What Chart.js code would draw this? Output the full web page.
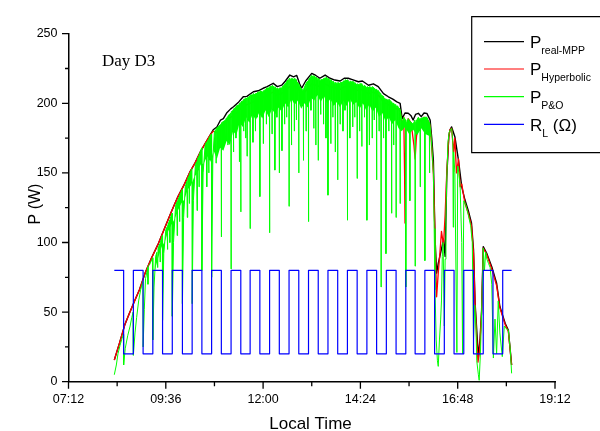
<!DOCTYPE html>
<html>
<head>
<meta charset="utf-8">
<script src="https://cdn.jsdelivr.net/npm/chart.js@4.4.0/dist/chart.umd.min.js"></script>
<style>
  html, body { margin: 0; padding: 0; background: #fff; }
</style>
</head>
<body>
<canvas id="chart" width="600" height="431"></canvas>
<script>
// time axis in decimal hours, power in W, load in ohm
const timeTicks = [7.2, 9.6, 12.0, 14.4, 16.8, 19.2];
const powerTicks = [0, 50, 100, 150, 200, 250];

// [hour, W]
const pRealMpp = [
  [8.33,15.6],[8.45,27],[8.59,41],[8.70,49],[8.84,58.7],[8.95,66],[9.09,78],[9.25,89],[9.42,99.4],
  [9.58,111],[9.75,123],[9.90,133],[10.07,142.5],[10.2,151],[10.32,157],[10.45,165],[10.57,171],
  [10.69,177],[10.77,181],[10.86,183],[10.95,188],[11.02,189],[11.1,193],[11.2,196],[11.27,197.5],
  [11.4,201],[11.51,204.7],[11.6,205],[11.76,208.3],[11.88,209],[12.0,210.8],[12.1,212],[12.25,214.4],
  [12.35,212],[12.46,213],[12.55,216],[12.66,220.3],[12.75,219],[12.83,220],[12.9,214],[12.95,210.8],
  [13.05,216],[13.2,221.5],[13.3,220],[13.4,218],[13.53,220.3],[13.65,218],[13.77,216.7],[13.9,216],
  [14.0,218],[14.1,218],[14.2,217],[14.35,215.5],[14.45,216],[14.6,213],[14.72,214],[14.84,212],
  [14.97,207],[15.09,204.7],[15.2,203],[15.3,201],[15.38,200],[15.43,189],[15.5,193],[15.58,192.8],
  [15.65,191],[15.7,188],[15.76,192],[15.83,192.8],[15.9,190.4],[15.97,193],[16.04,192.8],[16.12,188],
  [16.16,175],[16.2,159],[16.24,104],[16.28,78],[16.32,85],[16.36,90],[16.45,102],[16.49,90],
  [16.53,147],[16.58,176],[16.61,181],[16.65,183],[16.73,176],[16.82,159],[16.9,140],[16.98,130.5],
  [17.06,123],[17.14,114],[17.19,95],[17.23,56],[17.31,18],[17.35,30],[17.39,51.5],[17.43,97],
  [17.52,92],[17.64,82.6],[17.76,70.7],[17.84,54],[17.97,42],[18.05,37],[18.13,12]
];

const pHyperbolic = [
  [8.33,15.6],[8.45,27],[8.59,41],[8.70,49],[8.84,58.7],[8.95,66],[9.09,78],[9.25,89],[9.42,99.4],
  [9.58,111],[9.75,123],[9.90,133],[10.07,142.5],[10.2,151],[10.32,157],[10.45,165],[10.57,171],
  [10.69,177],[10.77,180],[10.86,179],[10.95,183],[11.02,184],[11.1,187],[11.2,190],[11.27,191],
  [11.4,195],[11.51,198],[11.6,199],[11.76,201],[11.88,203],[12.0,204],[12.1,206],[12.25,208],
  [12.35,206],[12.46,207],[12.55,209],[12.66,212],[12.75,212],[12.83,213],[12.95,205],[13.05,209],
  [13.2,214],[13.4,212],[13.53,214],[13.65,212],[13.77,211],[13.9,210],[14.0,212],[14.1,212],
  [14.2,211],[14.35,209],[14.45,210],[14.6,207],[14.72,208],[14.84,206],[14.97,201],[15.09,199],
  [15.2,197],[15.3,196],[15.38,195],[15.43,184],[15.47,190],[15.49,150],[15.5,114],[15.52,180],
  [15.58,189],[15.65,186],[15.72,170],[15.75,160],[15.78,175],[15.83,189],[15.9,187],[15.97,190],
  [16.04,189],[16.12,184],[16.16,168],[16.2,150],[16.24,105],[16.28,61],[16.32,78],[16.36,92],
  [16.4,108],[16.45,98],[16.49,120],[16.53,150],[16.58,176],[16.61,181],[16.65,182],[16.7,165],
  [16.73,175],[16.77,150],[16.82,160],[16.86,140],[16.9,142],[16.98,128],[17.06,121],[17.14,112],
  [17.19,92],[17.23,55],[17.27,30],[17.3,14],[17.34,22],[17.39,50],[17.43,96],[17.52,91],
  [17.64,81],[17.76,69],[17.84,53],[17.97,41],[18.05,36],[18.13,12]
];

const pPO = [
  // morning rise: drop at each load step, then slow recovery
  [8.33,5],[8.38,12],[8.42,20],[8.47,26],[8.52,31],[8.555,34],[8.56,12],[8.6,24],[8.66,33],[8.72,40],
  [8.76,46],[8.795,50],[8.80,19],[8.84,35],[8.88,46],[8.93,58],[8.98,66],[9.035,72],[9.04,25],[9.07,52],
  [9.1,74],[9.155,82],[9.16,70],[9.165,83],[9.2,84],[9.275,89],[9.28,30],[9.31,68],[9.35,90],[9.38,93],
  [9.40,82],[9.41,96],[9.455,99],[9.46,86],[9.465,100],[9.515,105],[9.52,44],[9.55,92],[9.6,109],
  [9.63,111],[9.64,95],[9.65,112],[9.695,116],[9.70,100],[9.705,117],[9.755,121],[9.76,47],[9.79,100],
  [9.84,126],[9.87,129],[9.88,105],[9.89,130],[9.935,133],[9.94,115],[9.945,134],[10.005,138],
  [10.01,56],[10.04,118],[10.08,140],[10.12,144],[10.13,118],[10.14,146],[10.175,148],[10.18,128],
  [10.185,149],[10.245,153],[10.25,56],[10.28,130],[10.33,156],[10.36,158],[10.37,123],[10.38,160],
  [10.415,162],[10.42,140],[10.425,163],[10.485,168],[10.49,80],[10.52,150],[10.57,170],[10.60,172],
  [10.61,140],[10.62,173],[10.655,174],[10.66,150],[10.665,175],[10.725,178],[10.73,75],[10.76,160],
  [10.8,180],
  // midday plateau
  [10.836,181],[10.84,157],[10.844,182],[10.966,185],[10.97,104],[10.974,186],[11.076,188],[11.08,176],
  [11.084,189],[11.126,190],[11.13,170],[11.134,191],[11.206,193],[11.21,81],[11.214,194],[11.266,195],
  [11.27,165],[11.274,196],[11.326,197],[11.33,175],[11.334,198],[11.411,199],[11.415,158],[11.419,200],
  [11.446,200],[11.45,122],[11.454,201],[11.516,202],[11.52,180],[11.524,203],[11.566,203],[11.57,175],
  [11.574,204],[11.601,203],[11.605,162],[11.609,204],[11.676,205],[11.68,110],[11.684,206],
  [11.746,206],[11.75,172],[11.754,207],[11.806,206],[11.81,180],[11.814,207],[11.856,207],[11.86,190],
  [11.864,208],[11.916,208],[11.92,133],[11.924,209],[12.001,208],[12.005,171],[12.009,209],
  [12.076,210],[12.08,185],[12.084,211],[12.156,211],[12.16,107],[12.164,212],[12.216,212],[12.22,178],
  [12.224,213],[12.286,211],[12.29,152],[12.294,212],[12.336,210],[12.34,190],[12.344,211],
  [12.396,210],[12.40,150],[12.404,211],[12.461,211],[12.465,166],[12.469,212],[12.526,213],
  [12.53,185],[12.534,214],[12.576,215],[12.58,190],[12.584,216],[12.636,217],[12.64,126],[12.644,218],
  [12.696,217],[12.70,170],[12.704,218],[12.766,217],[12.77,180],[12.774,218],[12.816,217],[12.82,188],
  [12.824,216],[12.876,214],[12.88,150],[12.884,213],[12.991,209],[12.995,159],[12.999,210],
  [13.056,214],[13.06,180],[13.064,215],[13.116,216],[13.12,115],[13.124,217],[13.176,219],[13.18,195],
  [13.184,220],[13.246,219],[13.25,182],[13.254,220],[13.296,218],[13.30,170],[13.304,219],
  [13.356,217],[13.36,159],[13.364,218],[13.416,216],[13.42,192],[13.424,217],[13.486,217],[13.49,185],
  [13.494,218],[13.546,218],[13.55,175],[13.554,219],[13.596,217],[13.60,134],[13.604,218],
  [13.666,216],[13.67,171],[13.674,217],[13.716,215],[13.72,190],[13.724,216],[13.776,214],[13.78,165],
  [13.784,215],[13.836,214],[13.84,145],[13.844,215],[13.896,214],[13.90,185],[13.904,215],
  [13.966,215],[13.97,180],[13.974,216],[14.016,216],[14.02,195],[14.024,217],[14.076,216],[14.08,116],
  [14.084,217],[14.136,215],[14.14,175],[14.144,216],[14.206,215],[14.21,183],[14.214,216],
  [14.256,214],[14.26,190],[14.264,215],[14.316,213],[14.32,146],[14.324,214],[14.376,213],[14.38,180],
  [14.384,214],[14.431,214],[14.435,169],[14.439,213],[14.496,212],[14.50,190],[14.504,213],
  [14.556,211],[14.56,116],[14.564,212],[14.616,211],[14.62,170],[14.624,212],[14.686,211],[14.69,175],
  [14.694,212],[14.736,211],[14.74,188],[14.744,210],[14.796,210],[14.80,145],[14.804,209],
  [14.856,209],[14.86,180],[14.864,208],[14.906,207],[14.91,68],[14.914,206],[14.966,205],[14.97,175],
  [14.974,204],[15.026,203],[15.03,92],[15.034,203],[15.096,202],[15.10,180],[15.104,203],
  [15.166,201],[15.17,121],[15.174,200],[15.216,200],[15.22,170],[15.224,199],[15.276,199],[15.28,118],
  [15.284,198],[15.326,198],[15.33,185],[15.334,197],[15.376,196],[15.38,128],[15.384,195],
  // afternoon clouds
  [15.43,186],[15.47,190],[15.515,188],[15.52,68],[15.525,185],[15.58,189],[15.615,187],[15.62,130],
  [15.625,187],[15.70,185],[15.745,188],[15.75,83],[15.755,186],[15.83,190],[15.87,188],[15.875,140],
  [15.88,189],[15.985,190],[15.99,87],[15.995,190],[16.04,190],[16.1,186],[16.105,150],[16.11,186],
  [16.14,178],
  [16.18,160],[16.2,150],[16.22,110],[16.24,66],[16.27,30],[16.3,15],[16.32,11],[16.35,30],[16.38,45],
  [16.4,58],[16.42,90],[16.44,100],[16.47,40],[16.49,88],[16.51,120],[16.53,145],[16.56,172],[16.59,179],
  [16.62,181],[16.65,182],[16.68,172],[16.69,111],[16.7,165],[16.73,150],[16.78,21],[16.8,155],
  [16.83,150],[16.86,140],[16.9,100],[16.92,20],[16.95,130],[17.0,127],[17.06,120],[17.12,112],
  [17.16,100],[17.19,30],[17.22,55],[17.25,40],[17.27,15],[17.31,5],[17.33,1],[17.36,20],[17.4,60],
  [17.43,96],[17.46,80],[17.49,93],[17.52,88],[17.56,85],[17.6,82],[17.64,70],[17.68,17],[17.72,45],
  [17.76,20],[17.8,58],[17.84,35],[17.9,18],[17.95,40],[18.0,38],[18.05,37],[18.1,22],[18.13,6]
];

// lower edge of the dense P&O oscillation band
const pPOFloor = [
  [9.33,80],[9.42,90],[9.5,97],[9.58,101],[9.66,108],[9.74,113],[9.82,117],[9.9,123],[9.98,128],
  [10.06,131],[10.14,138],[10.22,141],[10.3,147],[10.38,150],[10.46,156],[10.54,157],[10.62,162],
  [10.7,158],[10.78,166],[10.86,160],[10.94,168],[11.02,166],[11.1,173],[11.18,170],[11.26,180],
  [11.34,177],[11.42,186],[11.5,183],[11.58,190],[11.66,186],[11.74,192],[11.82,188],[11.9,193],
  [11.98,189],[12.06,195],[12.14,190],[12.22,196],[12.3,192],[12.38,197],[12.46,194],[12.54,200],
  [12.62,197],[12.7,203],[12.78,199],[12.86,202],[12.94,196],[13.02,200],[13.1,197],[13.18,204],
  [13.26,202],[13.34,206],[13.42,201],[13.5,205],[13.58,200],[13.66,203],[13.74,198],[13.82,201],
  [13.9,197],[13.98,202],[14.06,198],[14.14,203],[14.22,199],[14.3,201],[14.38,196],[14.46,200],
  [14.54,195],[14.62,199],[14.7,194],[14.78,197],[14.86,190],[14.94,193],[15.02,187],[15.1,190],
  [15.18,185],[15.26,188],[15.34,182],[15.42,180],[15.5,183],[15.6,178],[15.7,181],[15.8,177],
  [15.9,182],[16.0,178],[16.14,176]
];

// load switching instants (h) and the resistance set from each instant on
const loadSwitch = [
  8.33, 8.56, 8.80, 9.04, 9.28, 9.52, 9.76, 10.01, 10.25, 10.49, 10.73, 10.97, 11.21, 11.45,
  11.68, 11.92, 12.16, 12.40, 12.64, 12.88, 13.12, 13.36, 13.60, 13.84, 14.08, 14.32, 14.56,
  14.80, 15.04, 15.28, 15.52, 15.75, 15.99, 16.23, 16.47, 16.71, 16.95, 17.19, 17.43, 17.67, 17.91
];
const loadOhm = [
  80, 20, 80, 20, 80, 20, 80, 20, 80, 20, 80, 20, 80, 20,
  80, 20, 80, 20, 80, 20, 80, 20, 80, 20, 80, 20, 80,
  20, 80, 20, 80, 20, 80, 20, 80, 20, 80, 20, 80, 20, 80
];
const loadEnd = 18.13;

function hhmm(h) {
  const m = Math.round(h * 60);
  return String(Math.floor(m / 60)).padStart(2, '0') + ':' + String(m % 60).padStart(2, '0');
}
const toXY = arr => arr.map(p => ({ x: p[0], y: p[1] }));

const loadPts = [{ x: loadSwitch[0], y: loadOhm[0] }];
for (let i = 1; i < loadSwitch.length; i++) {
  loadPts.push({ x: loadSwitch[i], y: loadOhm[i - 1] });
  loadPts.push({ x: loadSwitch[i], y: loadOhm[i] });
}
loadPts.push({ x: loadEnd, y: loadOhm[loadOhm.length - 1] });

const SANS = '"Liberation Sans", Arial, sans-serif';
const SERIF = '"Liberation Serif", "Times New Roman", serif';

const legendRows = [
  { y: 41.7, color: '#000000', main: 'P', sub: 'real-MPP', tail: '' },
  { y: 69, color: '#ff0000', main: 'P', sub: 'Hyperbolic', tail: '' },
  { y: 96.7, color: '#00ff00', main: 'P', sub: 'P&O', tail: '' },
  { y: 124.3, color: '#0000ff', main: 'R', sub: 'L', tail: ' (\u03A9)' }
];

const decor = {
  id: 'decor',
  afterDraw(chart) {
    const c = chart.ctx;
    const xs = chart.scales.x, ys = chart.scales.y;
    const area = chart.chartArea;
    c.save();
    c.strokeStyle = '#000';
    c.lineWidth = 1.3;

    // outward tick marks, minor ones at half steps
    c.beginPath();
    timeTicks.forEach((v, i) => {
      const px = xs.getPixelForValue(v);
      c.moveTo(px, area.bottom); c.lineTo(px, area.bottom + 7);
      if (i < timeTicks.length - 1) {
        const mx = xs.getPixelForValue(v + 1.2);
        c.moveTo(mx, area.bottom); c.lineTo(mx, area.bottom + 4.5);
      }
    });
    powerTicks.forEach((v, i) => {
      const py = ys.getPixelForValue(v);
      c.moveTo(area.left, py); c.lineTo(area.left - 6.5, py);
      if (i < powerTicks.length - 1) {
        const my = ys.getPixelForValue(v + 25);
        c.moveTo(area.left, my); c.lineTo(area.left - 3.5, my);
      }
    });
    c.stroke();

    c.fillStyle = '#000';
    c.textBaseline = 'alphabetic';

    c.font = '17px ' + SERIF;
    c.textAlign = 'left';
    c.fillText('Day D3', 102, 65.5);

    c.font = '17px ' + SANS;
    c.textAlign = 'center';
    c.fillText('Local Time', 310.5, 429);

    c.save();
    c.translate(39.5, 204);
    c.rotate(-Math.PI / 2);
    c.font = '16px ' + SANS;
    c.fillText('P (W)', 0, 0);
    c.restore();

    // legend
    c.lineWidth = 1.2;
    c.beginPath();
    c.moveTo(602, 16.7); c.lineTo(471.7, 16.7); c.lineTo(471.7, 152.7); c.lineTo(602, 152.7);
    c.stroke();
    c.textAlign = 'left';
    legendRows.forEach(r => {
      c.strokeStyle = r.color;
      c.lineWidth = 1.2;
      c.beginPath();
      c.moveTo(484, r.y); c.lineTo(524, r.y);
      c.stroke();
      c.fillStyle = '#000';
      c.font = '17px ' + SANS;
      c.fillText(r.main, 530, r.y + 6.3);
      const w = c.measureText(r.main).width;
      c.font = '10.5px ' + SANS;
      c.fillText(r.sub, 530 + w, r.y + 12.3);
      const ws = c.measureText(r.sub).width;
      if (r.tail) {
        c.font = '17px ' + SANS;
        c.fillText(r.tail, 530 + w + ws, r.y + 6.3);
      }
    });
    c.restore();
  }
};

new Chart(document.getElementById('chart'), {
  type: 'line',
  data: {
    datasets: [
      { label: 'P real-MPP', data: toXY(pRealMpp), borderColor: '#000000', borderWidth: 1.4, order: 4 },
      { label: 'P Hyperbolic', data: toXY(pHyperbolic), borderColor: '#ff0000', borderWidth: 1.3, order: 3 },
      { label: 'P P&O', data: toXY(pPO), borderColor: '#00ff00', borderWidth: 1, order: 2,
        fill: { target: 3, above: '#00ff00', below: '#00ff00' } },
      { label: 'P&O band', data: toXY(pPOFloor), borderColor: 'transparent', borderWidth: 0, order: 5 },
      { label: 'R L', data: loadPts, borderColor: '#0000ff', borderWidth: 1.2, order: 1 }
    ]
  },
  options: {
    responsive: false,
    animation: false,
    events: [],
    layout: { padding: { left: 0, top: 33.7, right: 45, bottom: 0 } },
    elements: {
      point: { radius: 0 },
      line: { tension: 0, borderJoinStyle: 'round', fill: false }
    },
    plugins: { legend: { display: false }, tooltip: { enabled: false } },
    scales: {
      x: {
        type: 'linear', min: 7.2, max: 19.2,
        afterBuildTicks: s => { s.ticks = timeTicks.map(v => ({ value: v })); },
        afterFit: s => { s.height = 49.3; },
        ticks: { callback: v => hhmm(v), color: '#000', font: { family: SANS, size: 12.5 },
                 padding: 10, maxRotation: 0, autoSkip: false },
        grid: { display: true, drawOnChartArea: false, drawTicks: false },
        border: { display: true, color: '#000', width: 1.5 }
      },
      y: {
        type: 'linear', min: 0, max: 250,
        afterBuildTicks: s => { s.ticks = powerTicks.map(v => ({ value: v })); },
        afterFit: s => { s.width = 68.5; },
        ticks: { color: '#000', font: { family: SANS, size: 12.5 }, padding: 11 },
        grid: { display: true, drawOnChartArea: false, drawTicks: false },
        border: { display: true, color: '#000', width: 1.5 }
      }
    }
  },
  plugins: [decor]
});
</script>
</body>
</html>
